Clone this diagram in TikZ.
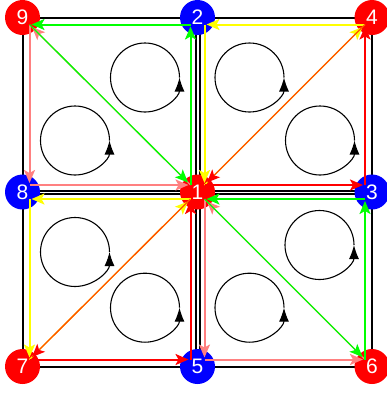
\documentclass[tikz,border=0pt]{standalone}
\usepackage{fontspec}
\setmainfont{Liberation Sans}
\usetikzlibrary{arrows.meta,calc}
\definecolor{cred}{RGB}{255,0,0}
\definecolor{cblue}{RGB}{0,0,255}
\definecolor{cgreen}{RGB}{0,255,0}
\definecolor{cyellow}{RGB}{255,255,0}
\definecolor{cpink}{RGB}{255,128,128}
\definecolor{corange}{RGB}{255,80,0}
\begin{document}
\begin{tikzpicture}[x=1pt,y=-1pt,
  vert/.style={circle,inner sep=0pt,minimum size=35pt,draw=none},
  lab/.style={text=white,font=\fontsize{21}{21}\selectfont,inner sep=0pt},
  quad/.style={draw=black,line width=2pt},
  edge/.style={line width=2pt,-{Stealth[length=13pt,width=11pt,inset=3pt]},shorten >=2pt},
  diag/.style={line width=1.3pt,-{Stealth[length=13pt,width=11pt,inset=3pt]},shorten >=3.5pt},
  odiag/.style={line width=1.3pt,draw=corange,-{Stealth[length=13pt,width=11pt,inset=3pt,color=cred]},shorten >=3.5pt},
  spin/.style={line width=1.1pt,-{Latex[length=14pt,width=10pt]}}
]
\useasboundingbox (0,0) rectangle (387,394);
\clip (0,0) rectangle (387,394);
% vertex positions
\coordinate (p9) at (22.5,17.5);
\coordinate (p2) at (197.5,17.5);
\coordinate (p4) at (372,17.5);
\coordinate (p8) at (22.5,192);
\coordinate (p1) at (197.5,192);
\coordinate (p3) at (372,192);
\coordinate (p7) at (22.5,366.5);
\coordinate (p5) at (197.5,366.5);
\coordinate (p6) at (372,366.5);
% element squares
\draw[quad] ($(p9)+(0.8,0)$) rectangle ($(p1)+(-1.7,-1.5)$);
\draw[quad] ($(p2)+(2.3,0)$) rectangle ($(p3)+(0,-1.5)$);
\draw[quad] ($(p8)+(0.8,2.3)$) rectangle ($(p5)+(-1.7,0.2)$);
\draw[quad] ($(p1)+(2.3,2.3)$) rectangle ($(p6)+(0,0.2)$);
% vertex discs
\node[vert,fill=cred]  (n9) at (p9) {};
\node[vert,fill=cblue] (n2) at (p2) {};
\node[vert,fill=cred]  (n4) at (p4) {};
\node[vert,fill=cblue] (n8) at (p8) {};
\node[vert,fill=cred]  (n1) at (p1) {};
\node[vert,fill=cblue] (n3) at (p3) {};
\node[vert,fill=cred]  (n7) at (p7) {};
\node[vert,fill=cblue] (n5) at (p5) {};
\node[vert,fill=cred]  (n6) at (p6) {};
% inset corners
\coordinate (a9) at ($(p9)+(7,7)$);
\coordinate (a2) at ($(p2)+(-7,7)$);
\coordinate (a1) at ($(p1)+(-7,-7)$);
\coordinate (a8) at ($(p8)+(7,-7)$);
\coordinate (b2) at ($(p2)+(7,7)$);
\coordinate (b4) at ($(p4)+(-7,7)$);
\coordinate (b3) at ($(p3)+(-7,-7)$);
\coordinate (b1) at ($(p1)+(7,-7)$);
\coordinate (c8) at ($(p8)+(7,7)$);
\coordinate (c1) at ($(p1)+(-7,7)$);
\coordinate (c5) at ($(p5)+(-7,-7)$);
\coordinate (c7) at ($(p7)+(7,-7)$);
\coordinate (d1) at ($(p1)+(7,7)$);
\coordinate (d3) at ($(p3)+(-7,7)$);
\coordinate (d6) at ($(p6)+(-7,-7)$);
\coordinate (d5) at ($(p5)+(7,-7)$);
% top-left element: pink (9,8,1), green (1,2,9)
\draw[edge,cpink] (a9) -- (a8);
\draw[edge,cpink] (a8) -- (a1);
\draw[diag,cpink] (a1) -- (a9);
\draw[edge,cgreen] (a1) -- (a2);
\draw[edge,cgreen] (a2) -- (a9);
\draw[diag,cgreen] (a9) -- (a1);
% top-right element: yellow (1,4,2), red (1,3,4)
\draw[diag,cyellow] (b1) -- (b4);
\draw[edge,cyellow] (b4) -- (b2);
\draw[edge,cyellow] (b2) -- (b1);
\draw[edge,cred] (b1) -- (b3);
\draw[edge,cred] (b3) -- (b4);
\draw[odiag] (b4) -- (b1);
% bottom-left element: yellow (8,7,1), red (7,5,1)
\draw[edge,cyellow] (c8) -- (c7);
\draw[diag,cyellow] (c7) -- (c1);
\draw[edge,cyellow] (c1) -- (c8);
\draw[edge,cred] (c7) -- (c5);
\draw[edge,cred] (c5) -- (c1);
\draw[odiag] (c1) -- (c7);
% bottom-right element: pink (1,5,6), green (1,6,3)
\draw[edge,cpink] (d1) -- (d5);
\draw[edge,cpink] (d5) -- (d6);
\draw[diag,cpink] (d6) -- (d1);
\draw[diag,cgreen] (d1) -- (d6);
\draw[edge,cgreen] (d6) -- (d3);
\draw[edge,cgreen] (d3) -- (d1);
% orientation circles
\coordinate (s1) at (145,77.5);
\coordinate (s2) at (75,140.5);
\coordinate (s3) at (249.5,77.5);
\coordinate (s4) at (320,140.5);
\coordinate (s5) at (75,252);
\coordinate (s6) at (145,307.7);
\coordinate (s7) at (319.5,245);
\coordinate (s8) at (249.5,307.7);
\foreach \s in {s1,s2,s3,s4,s5,s6,s7,s8}{
  \draw[spin] ($(\s)+(34.5,0)$) arc[start angle=0,end angle=360,radius=34.5pt];
}
% labels
\node[lab] (t9) at (n9) {9};
\node[lab] (t2) at (n2) {2};
\node[lab] (t4) at (n4) {4};
\node[lab] (t8) at (n8) {8};
\node[lab] (t1) at (n1) {1};
\node[lab] (t3) at (n3) {3};
\node[lab] (t7) at (n7) {7};
\node[lab] (t5) at (n5) {5};
\node[lab] (t6) at (n6) {6};
\end{tikzpicture}
\end{document}
